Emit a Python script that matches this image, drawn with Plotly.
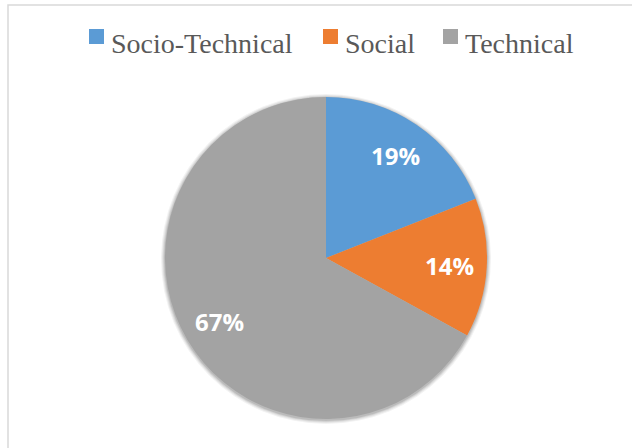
import numpy as np
import plotly.graph_objects as go

labels = ["Socio-Technical", "Social", "Technical"]
values = [19, 14, 67]
colors = ["#5B9BD5", "#ED7D31", "#A3A3A3"]

W, H = 632, 448
cx, cy, rad = 326, 258, 161

fig = go.Figure(go.Pie(
    labels=labels, values=values, sort=False, direction="clockwise", rotation=0,
    marker=dict(colors=colors, line=dict(width=0)),
    textinfo="none",
    hoverinfo="label+percent",
    showlegend=False,
    domain=dict(x=[(cx - rad) / W, (cx + rad) / W],
                y=[1 - (cy + rad) / H, 1 - (cy - rad) / H]),
))

# percent labels placed along each slice's mid-angle (computed from the data)
vals = np.array(values, dtype=float)
frac = vals / vals.sum()
mid = (np.cumsum(frac) - frac / 2) * 2 * np.pi
annotations = []
for f, a in zip(frac, mid):
    r = 0.77 * rad
    px = cx + r * np.sin(a)
    py = cy - r * np.cos(a)
    annotations.append(dict(
        x=px / W, y=1 - py / H, xref="paper", yref="paper",
        text=f"{round(f * 100)}%", showarrow=False,
        font=dict(family="Open Sans", size=24, color="white", weight="bold"),
        xanchor="center", yanchor="middle"))

# legend (squares + serif text)
leg_sq_x = [89, 323, 443]
shapes = [dict(type="rect", xref="paper", yref="paper",
               x0=8 / W, x1=(W + 20) / W, y0=-20 / H, y1=1 - 5 / H,
               line=dict(color="#D9D9D9", width=1.5), layer="below")]
# soft shadow around the pie
for k, op in [(4, 0.05), (3, 0.06), (2, 0.08), (1, 0.10)]:
    shapes.append(dict(type="circle", xref="paper", yref="paper",
                       x0=(cx - rad - k) / W, x1=(cx + rad + k) / W,
                       y0=1 - (cy + 1 + rad + k) / H, y1=1 - (cy + 1 - rad - k) / H,
                       fillcolor=f"rgba(0,0,0,{op})", line=dict(width=0), layer="below"))
for lab, col, sx in zip(labels, colors, leg_sq_x):
    shapes.append(dict(type="rect", xref="paper", yref="paper",
                       x0=sx / W, x1=(sx + 15) / W, y0=1 - 44 / H, y1=1 - 29 / H,
                       fillcolor=col, line=dict(width=0)))
    annotations.append(dict(
        x=(sx + 20) / W, y=1 - 44 / H, xref="paper", yref="paper",
        text=lab, showarrow=False, xanchor="left", yanchor="middle",
        font=dict(family="Liberation Serif", size=28, color="#595959")))

fig.update_layout(
    width=W, height=H, margin=dict(l=0, r=0, t=0, b=0),
    paper_bgcolor="white", plot_bgcolor="white",
    shapes=shapes, annotations=annotations,
)

fig.write_html("out.html")
